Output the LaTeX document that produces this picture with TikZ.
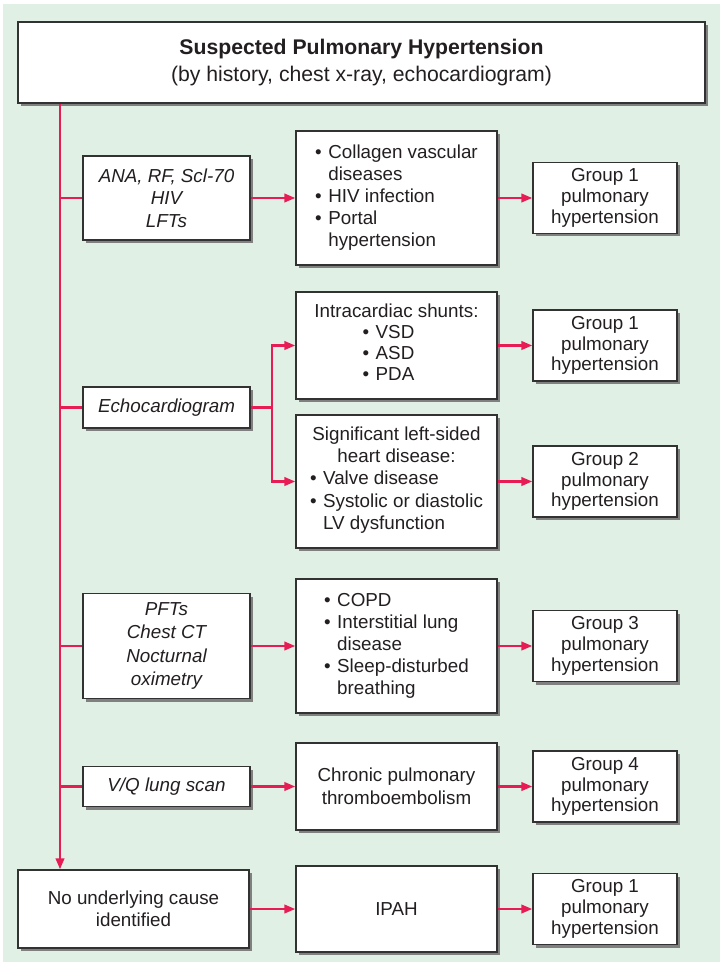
\documentclass[tikz,border=0pt]{standalone}
\usepackage{fontspec}
\setmainfont{Liberation Sans}
\usetikzlibrary{arrows.meta,shadows}
\definecolor{bggreen}{RGB}{224,240,229}
\definecolor{arrred}{RGB}{232,28,84}
\definecolor{boxline}{RGB}{50,50,50}
\definecolor{shadowgray}{RGB}{128,128,128}
\definecolor{txt}{RGB}{35,31,32}
\newcommand{\blist}[1]{\begin{tabular}[t]{@{}l@{\hspace{6.5pt}}l@{}}#1\end{tabular}}
\tikzset{
  box/.style={draw=boxline, line width=1.4pt, fill=white, inner sep=0pt, text=txt,
    drop shadow={shadow xshift=3pt, shadow yshift=-3pt, fill=shadowgray, opacity=1},
    align=center, font=\fontsize{18.8}{22.2}\selectfont},
  grp/.style={box, minimum width=144pt, minimum height=71pt, font=\fontsize{18.8}{20.7}\selectfont},
  lbox/.style={box, minimum width=167pt, font=\fontsize{18.8}{22.5}\selectfont\itshape},
  mbox/.style={box, minimum width=201pt},
  conn/.style={draw=arrred, line width=2.4pt},
  arr/.style={conn, -{Triangle[length=11pt,width=8.5pt]}},
}
\begin{document}
\begin{tikzpicture}[x=1pt,y=-1pt]
\useasboundingbox (0,0) rectangle (722,965);
\fill[bggreen] (3,4) rectangle (720,962);

% top box
\node[box, minimum width=687pt, minimum height=81pt, font=\fontsize{21.2}{27.5}\selectfont] (top) at (361.5,62.5)
  {\textbf{Suspected Pulmonary Hypertension}\\(by history, chest x-ray, echocardiogram)};

% row 1
\node[lbox, minimum height=84pt] (ana) at (166.5,198) {ANA, RF, Scl-70\\HIV\\LFTs};
\node[mbox, minimum height=134pt] (coll) at (396.5,198)
  {\blist{\textbullet & Collagen vascular\\ & diseases\\ \textbullet & HIV infection\\ \textbullet & Portal\\ & hypertension}};
\node[grp] (g1a) at (605,198) {Group 1\\pulmonary\\hypertension};

% row 2 (echo)
\node[lbox, minimum height=41pt] (echo) at (166.5,407.5) {Echocardiogram};
\node[mbox, minimum height=107pt, font=\fontsize{18.8}{21.2}\selectfont] (intra) at (396.5,345.5)
  {Intracardiac shunts:\\ \hspace*{-16pt}\blist{\textbullet & VSD\\ \textbullet & ASD\\ \textbullet & PDA}};
\node[grp] (g1b) at (605,345.5) {Group 1\\pulmonary\\hypertension};
\node[mbox, minimum height=133pt] (sig) at (396.5,481.5)
  {Significant left-sided\\heart disease:\\ \blist{\textbullet & Valve disease\\ \textbullet & Systolic or diastolic\\ & LV dysfunction}};
\node[grp] (g2) at (605,481.5) {Group 2\\pulmonary\\hypertension};

% row 3
\node[lbox, minimum height=105pt, font=\fontsize{18.8}{23.2}\selectfont\itshape] (pft) at (166.5,646)
  {PFTs\\Chest CT\\Nocturnal\\oximetry};
\node[mbox, minimum height=134pt] (copd) at (396.5,646)
  {\blist{\textbullet & COPD\\ \textbullet & Interstitial lung\\ & disease\\ \textbullet & Sleep-disturbed\\ & breathing}};
\node[grp] (g3) at (605,646) {Group 3\\pulmonary\\hypertension};

% row 4
\node[lbox, minimum height=40pt] (vq) at (166.5,786.5) {V/Q lung scan};
\node[mbox, minimum height=87pt, font=\fontsize{18.8}{22.7}\selectfont] (chron) at (396.5,786.5)
  {Chronic pulmonary\\thromboembolism};
\node[grp] (g4) at (605,786.5) {Group 4\\pulmonary\\hypertension};

% row 5
\node[box, minimum width=231pt, minimum height=78pt] (none) at (133.5,909)
  {No underlying cause\\identified};
\node[mbox, minimum height=86pt] (ipah) at (396.5,909) {IPAH};
\node[grp] (g1c) at (605,909) {Group 1\\pulmonary\\hypertension};

% connectors
\coordinate (mx) at (60,0);
\coordinate (jct) at (272,407.5);
\draw[arr] (top.south -| mx) -- (none.north -| mx);
\draw[conn] (ana.west -| mx) -- (ana.west);
\draw[conn] (echo.west -| mx) -- (echo.west);
\draw[conn] (pft.west -| mx) -- (pft.west);
\draw[conn] (vq.west -| mx) -- (vq.west);

\draw[arr] (ana.east) -- (coll.west |- ana.east);
\draw[arr] (coll.east |- g1a.west) -- (g1a.west);

\draw[conn] (echo.east) -- (jct);
\draw[arr] (jct) |- (intra.west);
\draw[arr] (jct) |- (sig.west);
\draw[arr] (intra.east |- g1b.west) -- (g1b.west);
\draw[arr] (sig.east |- g2.west) -- (g2.west);

\draw[arr] (pft.east) -- (copd.west |- pft.east);
\draw[arr] (copd.east |- g3.west) -- (g3.west);

\draw[arr] (vq.east) -- (chron.west |- vq.east);
\draw[arr] (chron.east |- g4.west) -- (g4.west);

\draw[arr] (none.east) -- (ipah.west |- none.east);
\draw[arr] (ipah.east |- g1c.west) -- (g1c.west);
\end{tikzpicture}
\end{document}
